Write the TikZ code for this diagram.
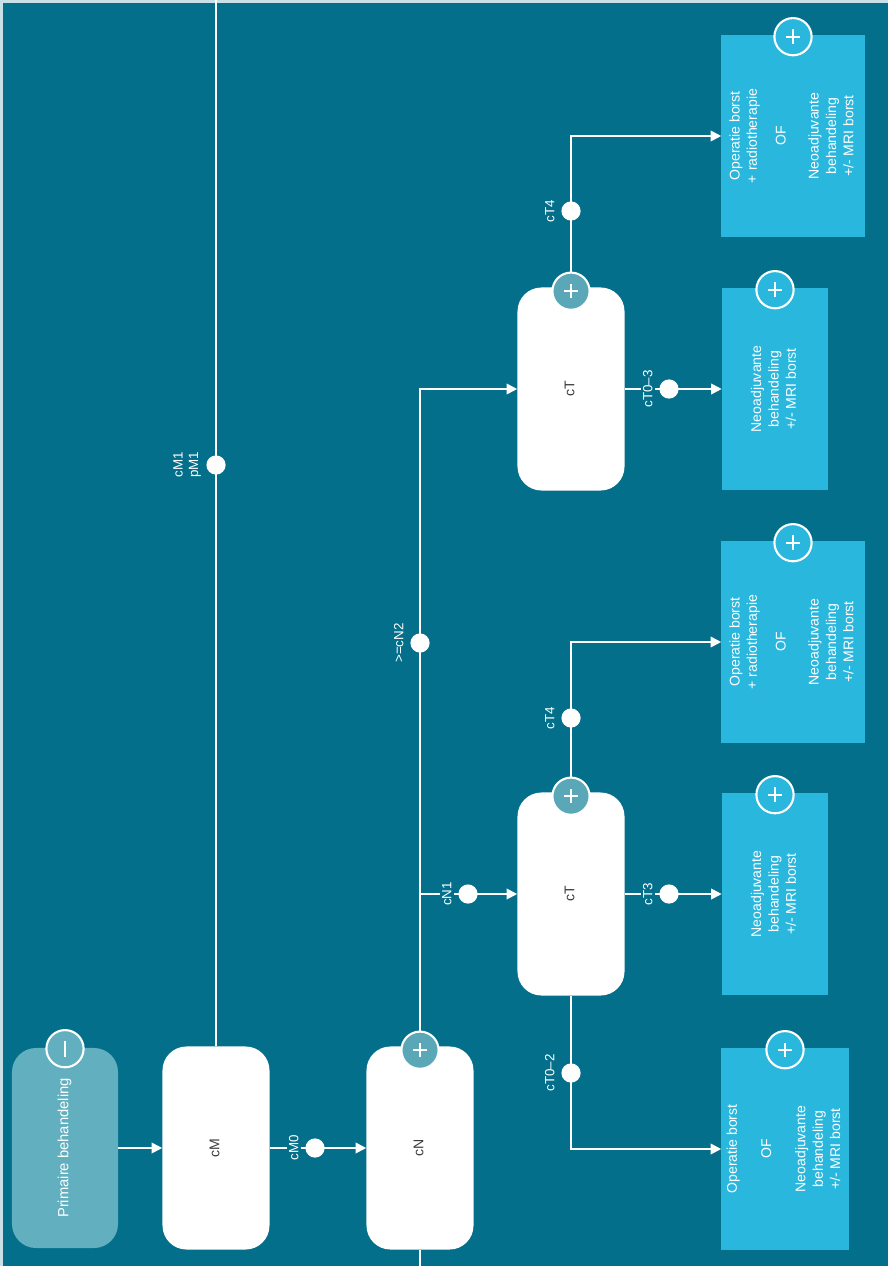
\documentclass[tikz,border=0pt]{standalone}
\usepackage{fontspec}
\setmainfont{Liberation Sans}
\usetikzlibrary{arrows.meta, positioning, calc}
\definecolor{bgteal}{HTML}{036F8A}
\definecolor{lightedge}{HTML}{C9E0E7}
\definecolor{boxblue}{HTML}{2AB7DD}
\definecolor{primteal}{HTML}{62AFC0}
\definecolor{plusteal}{HTML}{5AA8B7}
\definecolor{txtgrey}{HTML}{3C3C3C}
\newcommand{\vtxt}[1]{\rotatebox{90}{\begin{tabular}{@{}c@{}}#1\end{tabular}}}
\tikzset{
    wbox/.style={fill=white, rounded corners=0.6cm, minimum width=2.675cm, minimum height=5.075cm,
                 inner sep=0pt, text=txtgrey, font=\fontsize{10}{12}\selectfont},
    primbox/.style={wbox, fill=primteal, minimum width=2.65cm, minimum height=5.0cm, text=white,
                 font=\fontsize{10.5}{12}\selectfont},
    outbox/.style={fill=boxblue, minimum height=5.05cm, inner sep=0pt, text=white,
                 font=\fontsize{10}{12.4}\selectfont},
    jdot/.style={circle, fill=white, minimum size=0.48cm, inner sep=0pt},
    lbl/.style={rotate=90, anchor=south, align=center, text=white, fill=bgteal, inner sep=1.5pt,
                font=\fontsize{9.5}{11}\selectfont},
    conn/.style={draw=white, line width=1.3pt},
    arr/.style={conn, -{Triangle[length=7.5pt, width=7.5pt]}},
    plusw/.style={circle, minimum size=0.93cm, inner sep=0pt, fill=plusteal, draw=white, line width=1.5pt,
                  path picture={\draw[white, line width=1.6pt]
                      (path picture bounding box.center) ++(-0.18cm,0) -- ++(0.36cm,0)
                      (path picture bounding box.center) ++(0,-0.18cm) -- ++(0,0.36cm);}},
    plusb/.style={plusw, fill=boxblue},
    minusc/.style={plusw, fill=primteal,
                  path picture={\draw[white, line width=1.6pt]
                      (path picture bounding box.center) ++(0,-0.2cm) -- ++(0,0.4cm);}}
}
\begin{document}
\begin{tikzpicture}[x=0.025cm, y=-0.025cm]
    \useasboundingbox (0,0) rectangle (888,1266);
    \fill[lightedge] (0,0) rectangle (888,1266);
    \fill[bgteal] (3,3) rectangle (888,1266);

    % boxes
    \node[primbox] (prim) at (65,1148) {\vtxt{Primaire behandeling}};
    \node[wbox] (cM) at (216,1148) {\vtxt{cM}};
    \node[wbox] (cN) at (420,1148) {\vtxt{cN}};
    \node[wbox] (cTa) at (571,894) {\vtxt{cT}};
    \node[wbox] (cTb) at (571,389) {\vtxt{cT}};
    \node[outbox, minimum width=3.175cm] (opA) at (785,1149)
        {\vtxt{Operatie borst\\[12pt]OF\\[12pt]Neoadjuvante\\behandeling\\+/- MRI borst}};
    \node[outbox, minimum width=2.65cm] (neoA) at (775,894)
        {\vtxt{Neoadjuvante\\behandeling\\+/- MRI borst}};
    \node[outbox, minimum width=3.575cm] (orA) at (793,642)
        {\vtxt{Operatie borst\\+ radiotherapie\\[8pt]OF\\[11pt]Neoadjuvante\\behandeling\\+/- MRI borst}};
    \node[outbox, minimum width=2.65cm] (neoB) at (775,389)
        {\vtxt{Neoadjuvante\\behandeling\\+/- MRI borst}};
    \node[outbox, minimum width=3.575cm] (orB) at (793,136)
        {\vtxt{Operatie borst\\+ radiotherapie\\[8pt]OF\\[11pt]Neoadjuvante\\behandeling\\+/- MRI borst}};

    % connectors
    \coordinate (top) at (216,0);
    \coordinate (bot) at (420,1266);
    \draw[conn] (cM.north) -- (top);
    \draw[conn] (cN.south) -- (bot);
    \draw[arr] (prim) -- (cM);
    \draw[arr] (cM) -- (cN);
    \draw[arr] (cN.north) |- (cTb.west);
    \draw[arr] (cN.north |- cTa.west) -- (cTa.west);
    \draw[arr] (cTa) -- (neoA);
    \draw[arr] (cTa.north) |- (orA.west);
    \draw[arr] (cTa.south) |- (opA.west);
    \draw[arr] (cTb) -- (neoB);
    \draw[arr] (cTb.north) |- (orB.west);

    % junction dots and their labels
    \node[jdot] (dM1) at (216,465) {};
    \node[lbl] (lM1) at ([xshift=-2pt]dM1.west) {cM1\\pM1};
    \node[jdot] (dM0) at (315,1148) {};
    \node[lbl] (lM0) at ([xshift=-3pt]dM0.west) {cM0};
    \node[jdot] (dN2) at (420,643) {};
    \node[lbl] (lN2) at ([xshift=-3pt]dN2.west) {>=cN2};
    \node[jdot] (dN1) at (468,894) {};
    \node[lbl] (lN1) at ([xshift=-3pt]dN1.west) {cN1};
    \node[jdot] (dT3) at (669,894) {};
    \node[lbl] (lT3) at ([xshift=-3pt]dT3.west) {cT3};
    \node[jdot] (dT4a) at (571,718) {};
    \node[lbl] (lT4a) at ([xshift=-3pt]dT4a.west) {cT4};
    \node[jdot] (dT02) at (571,1073) {};
    \node[lbl] (lT02) at ([xshift=-3pt]dT02.west) {cT0--2};
    \node[jdot] (dT03) at (669,389) {};
    \node[lbl] (lT03) at ([xshift=-3pt]dT03.west) {cT0--3};
    \node[jdot] (dT4b) at (571,211) {};
    \node[lbl] (lT4b) at ([xshift=-3pt]dT4b.west) {cT4};

    % expand / collapse marks
    \node[minusc] (mPrim) at ($(prim.north)+(0,1)$) {};
    \node[plusw] (pN) at ($(cN.north)+(0,4)$) {};
    \node[plusw] (pTa) at ($(cTa.north)+(0,4)$) {};
    \node[plusw] (pTb) at ($(cTb.north)+(0,4)$) {};
    \node[plusb] (pOpA) at ($(opA.north)+(0,2)$) {};
    \node[plusb] (pNeoA) at ($(neoA.north)+(0,2)$) {};
    \node[plusb] (pOrA) at ($(orA.north)+(0,2)$) {};
    \node[plusb] (pNeoB) at ($(neoB.north)+(0,2)$) {};
    \node[plusb] (pOrB) at ($(orB.north)+(0,2)$) {};
\end{tikzpicture}
\end{document}
